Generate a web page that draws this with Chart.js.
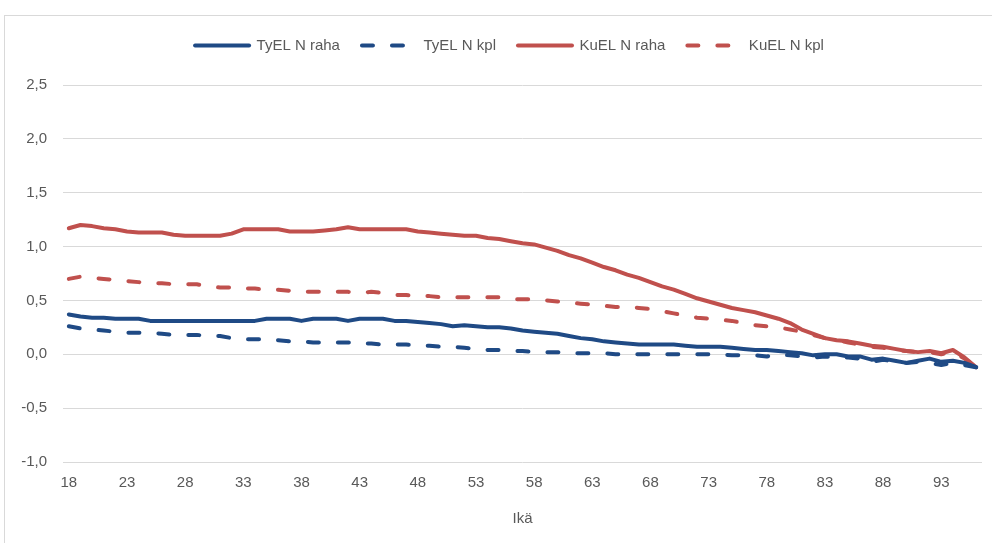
<!DOCTYPE html>
<html>
<head>
<meta charset="utf-8">
<script src="https://cdn.jsdelivr.net/npm/chart.js@4"></script>
<style>
  html, body { margin: 0; padding: 0; background: #ffffff; overflow: hidden; width: 992px; height: 543px; }
  #frame { position: absolute; left: 4px; top: 15px; width: 1020px; height: 560px; border: 1px solid #d9d9d9; background: #fff; }
  #c { position: absolute; left: 0; top: 0; }
</style>
</head>
<body>
<div id="frame"><canvas id="c" width="987" height="527"></canvas></div>
<script>
// ---- data ----
const ages = [];
for (let a = 18; a <= 96; a++) ages.push(String(a));

const tyelRaha = [0.37,0.35,0.34,0.34,0.33,0.33,0.33,0.31,0.31,0.31,
                  0.31,0.31,0.31,0.31,0.31,0.31,0.31,0.33,0.33,0.33,
                  0.31,0.33,0.33,0.33,0.31,0.33,0.33,0.33,0.31,0.31,
                  0.30,0.29,0.28,0.26,0.27,0.26,0.25,0.25,0.24,0.22,
                  0.21,0.20,0.19,0.17,0.15,0.14,0.12,0.11,0.10,0.09,
                  0.09,0.09,0.09,0.08,0.07,0.07,0.07,0.06,0.05,0.04,
                  0.04,0.03,0.02,0.01,-0.01,0.00,0.00,-0.02,-0.02,-0.05,
                  -0.04,-0.06,-0.08,-0.06,-0.04,-0.07,-0.06,-0.08,-0.12];

const tyelKpl = [0.26,0.24,0.23,0.22,0.21,0.20,0.20,0.20,0.19,0.18,
                 0.18,0.18,0.17,0.17,0.15,0.14,0.14,0.14,0.13,0.12,
                 0.12,0.11,0.11,0.11,0.11,0.10,0.10,0.09,0.09,0.09,
                 0.08,0.08,0.07,0.07,0.06,0.05,0.04,0.04,0.03,0.03,
                 0.02,0.02,0.02,0.01,0.01,0.01,0.01,0.00,0.00,0.00,
                 0.00,0.00,0.00,0.00,0.00,0.00,0.00,-0.01,-0.01,-0.01,
                 -0.02,0.00,-0.01,-0.02,-0.03,-0.02,-0.03,-0.03,-0.04,-0.07,
                 -0.05,-0.07,-0.08,-0.07,-0.08,-0.10,-0.08,-0.10,-0.12];

const kuelRaha = [1.17,1.20,1.19,1.17,1.16,1.14,1.13,1.13,1.13,1.11,
                  1.10,1.10,1.10,1.10,1.12,1.16,1.16,1.16,1.16,1.14,
                  1.14,1.14,1.15,1.16,1.18,1.16,1.16,1.16,1.16,1.16,
                  1.14,1.13,1.12,1.11,1.10,1.10,1.08,1.07,1.05,1.03,
                  1.02,0.99,0.96,0.92,0.89,0.85,0.81,0.78,0.74,0.71,
                  0.67,0.63,0.60,0.56,0.52,0.49,0.46,0.43,0.41,0.39,
                  0.36,0.33,0.29,0.23,0.19,0.15,0.13,0.12,0.10,0.08,
                  0.07,0.05,0.03,0.02,0.03,0.01,0.04,-0.03,-0.12];

const kuelKpl = [0.70,0.72,0.71,0.70,0.69,0.68,0.67,0.66,0.66,0.65,
                 0.65,0.65,0.63,0.62,0.62,0.61,0.61,0.60,0.60,0.59,
                 0.58,0.58,0.58,0.58,0.58,0.57,0.58,0.57,0.55,0.55,
                 0.54,0.54,0.53,0.53,0.53,0.53,0.53,0.53,0.51,0.51,
                 0.51,0.50,0.49,0.48,0.47,0.46,0.45,0.44,0.44,0.43,
                 0.42,0.40,0.38,0.36,0.34,0.33,0.32,0.31,0.29,0.27,
                 0.26,0.25,0.23,0.21,0.18,0.15,0.13,0.11,0.09,0.07,
                 0.06,0.04,0.03,0.02,0.02,0.00,0.02,-0.04,-0.12];

const seriesNames = ['TyEL N raha', 'TyEL N kpl', 'KuEL N raha', 'KuEL N kpl'];
const yTicks = [-1.0, -0.5, 0.0, 0.5, 1.0, 1.5, 2.0, 2.5];
const xAxisTitle = 'Ikä';

const BLUE = '#1f4a85';
const RED = '#c0504d';
const TXT = '#595959';
const FONT = "'Liberation Sans', Arial, sans-serif";

const dash = [11, 19];

function ds(label, data, color, dashed) {
  return {
    label, data,
    borderColor: color, backgroundColor: color,
    borderWidth: 4, pointRadius: 0, pointHoverRadius: 0, tension: 0,
    borderDash: dashed ? dash : [],
    borderCapStyle: 'round', borderJoinStyle: 'round',
    fill: false
  };
}

const legendTweak = {
  id: 'legendTweak',
  beforeInit(chart) {
    const fit = chart.legend.fit;
    chart.legend.fit = function () { fit.bind(chart.legend)(); this.height += 22; };
  },
  afterLayout(chart) {
    const lg = chart.legend;
    const target = 504.5; // canvas x of legend centre
    const dx = target - (lg.left + lg.right) / 2;
    lg.left += dx; lg.right += dx;
  }
};

new Chart(document.getElementById('c'), {
  type: 'line',
  data: {
    labels: ages,
    datasets: [
      ds(seriesNames[0], tyelRaha, BLUE, false),
      ds(seriesNames[1], tyelKpl, BLUE, true),
      ds(seriesNames[2], kuelRaha, RED, false),
      ds(seriesNames[3], kuelKpl, RED, true)
    ]
  },
  plugins: [legendTweak],
  options: {
    responsive: false,
    animation: false,
    devicePixelRatio: 1,
    layout: { padding: { left: 0, right: 10, top: 0, bottom: 15 } },
    plugins: {
      tooltip: { enabled: false },
      legend: {
        position: 'top',
        labels: {
          usePointStyle: true,
          pointStyle: 'line',
          pointStyleWidth: 54,
          boxHeight: 4,
          padding: 22,
          color: TXT,
          font: { family: FONT, size: 15 },
          generateLabels(chart) {
            const items = Chart.defaults.plugins.legend.labels.generateLabels(chart);
            items.forEach((it, i) => {
              const d = chart.data.datasets[i];
              it.lineDash = d.borderDash;
              it.lineWidth = 4;
              it.strokeStyle = d.borderColor;
              it.fillStyle = d.borderColor;
              it.lineCap = 'round';
              it.pointStyle = 'line';
            });
            return items;
          }
        }
      }
    },
    scales: {
      x: {
        type: 'category',
        offset: true,
        grid: { display: false, drawTicks: false },
        border: { display: false },
        ticks: {
          autoSkip: false, maxRotation: 0, minRotation: 0,
          padding: 12, color: TXT, font: { family: FONT, size: 15 },
          callback: function (v, i) { return (i % 5 === 0) ? ages[i] : ''; }
        },
        title: { display: true, text: xAxisTitle, color: TXT, font: { family: FONT, size: 15 }, padding: { top: 6, bottom: 0 } }
      },
      y: {
        min: yTicks[0], max: yTicks[yTicks.length - 1],
        afterBuildTicks: function (s) { s.ticks = yTicks.map(v => ({ value: v })); },
        afterFit: function (s) { s.width = 58; },
        grid: { color: '#d9d9d9', lineWidth: 1, drawTicks: false },
        border: { display: false },
        ticks: {
          padding: 16, color: TXT, font: { family: FONT, size: 15 },
          callback: function (v) { return v.toFixed(1).replace('.', ','); }
        }
      }
    }
  }
});
</script>
</body>
</html>
